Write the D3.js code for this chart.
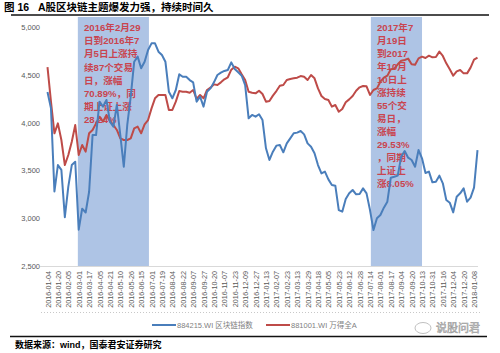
<!DOCTYPE html>
<html>
<head>
<meta charset="utf-8">
<script src="https://cdn.jsdelivr.net/npm/d3@7"></script>
<style>
  body { margin: 0; background: #fff; }
  svg text { font-family: "Liberation Sans", "Noto Sans CJK SC", sans-serif; }
</style>
</head>
<body>
<svg id="chart" width="500" height="353"></svg>
<script>
'use strict';

// category labels, one every 12 trading days
const tickLabels = ['2016-01-04', '2016-01-20', '2016-02-05', '2016-03-01', '2016-03-17', '2016-04-05',
    '2016-04-21', '2016-05-10', '2016-05-26', '2016-06-15', '2016-07-01', '2016-07-19', '2016-08-04',
    '2016-08-22', '2016-09-07', '2016-09-27', '2016-10-20', '2016-11-07', '2016-11-23', '2016-12-09',
    '2016-12-27', '2017-01-13', '2017-02-07', '2017-02-23', '2017-03-13', '2017-03-29', '2017-04-18',
    '2017-05-05', '2017-05-23', '2017-06-12', '2017-06-28', '2017-07-14', '2017-08-01', '2017-08-17',
    '2017-09-04', '2017-09-20', '2017-10-13', '2017-10-31', '2017-11-16', '2017-12-04', '2017-12-20',
    '2018-01-08'];
const tickEvery = 12;
const sampleStep = 4; // values below are read every 4 trading days

// 884215.WI 区块链指数
const blockchain = [4320, 4149, 3280, 3556, 3505, 3010, 3330, 3556, 3590, 2880, 3100, 3060, 3277, 3870,
    3870, 4219, 4167, 4237, 4010, 3958, 4184, 3870, 3539, 3975, 4271, 4637, 4690, 4568, 4637, 4760,
    4829, 4829, 4742, 4707, 4637, 4323, 4254, 4341, 4505, 4480, 4480, 4445, 4421,
    4219, 4271, 4167, 4323, 4358, 4421, 4498, 4522, 4540, 4550, 4630, 4561, 4526, 4491, 4393, 4045,
    4080, 4062, 4087, 4027, 3731, 3609, 3696, 3759, 3766, 3689, 3783, 3835, 3888, 3895, 3912, 3877,
    3783, 3748, 3679, 3556, 3469, 3487, 3406, 3347, 3340, 3085,
    3068, 3201, 3260, 3295, 3250, 3253, 3312, 3260, 3085, 2876, 2999, 3033, 3110, 3173, 3424, 3434,
    3445, 3644, 3703, 3633, 3609, 3539, 3713, 3626, 3473, 3487, 3375, 3382, 3445, 3365, 3190, 3162,
    3061, 3225, 3260, 3312, 3173, 3215, 3319, 3713];

// 881001.WI 万得全A
const windA = [4580, 4220, 3888, 3992, 3818, 3556, 3661, 3800, 3975, 3661, 3766, 3696, 3888, 3923,
    3992, 4062, 4010, 4080, 4017, 3975, 3923, 3835, 3818, 3818, 3835, 3940, 3958, 3888, 3982, 4027,
    4149, 4254, 4289, 4289, 4289, 4132, 4132, 4219, 4330, 4323, 4323, 4313, 4341,
    4247, 4289, 4254, 4341, 4365, 4400, 4393, 4421, 4453, 4474, 4554, 4585, 4568, 4505, 4446, 4323,
    4313, 4306, 4334, 4299, 4219, 4226, 4282, 4330, 4386, 4393, 4446, 4456, 4463, 4470, 4487, 4480,
    4446, 4498, 4463, 4358, 4278, 4247, 4236, 4167, 4184, 4114,
    4142, 4212, 4243, 4278, 4334, 4369, 4383, 4379, 4289, 4341, 4358, 4428, 4470, 4491, 4557, 4564,
    4610, 4648, 4655, 4669, 4610, 4606, 4672, 4690, 4676, 4700, 4683, 4686, 4742, 4697, 4620, 4557,
    4491, 4536, 4550, 4515, 4515, 4575, 4658, 4679];

const yTicks = [2500, 3000, 3500, 4000, 4500, 5000];

// highlighted periods, in trading-day index
const periods = [[35, 117], [373, 432]];

const note1 = ['2016年2月29', '日到2016年7', '月5日上涨持', '续87个交易', '日，涨幅', '70.89%，同',
    '期上证上涨', '28.24%'];
const note2 = ['2017年7', '月19日', '到2017', '年10月', '10日上', '涨持续', '55个交', '易日，', '涨幅',
    '29.53%', '，同期', '上证上', '涨8.05%'];

const svg = d3.select('#chart');

const x = d3.scaleLinear()
    .domain([0, (blockchain.length - 1) * sampleStep])
    .range([47.5, 477.5]);
const y = d3.scaleLinear().domain([2500, 5000]).range([266, 27]);

// title
const title = svg.append('g')
    .style('font-weight', 'bold').style('font-size', '10.5px');
title.append('text').attr('x', 4).attr('y', 11).text('图 16');
title.append('text').attr('x', 38).attr('y', 11).text('A股区块链主题爆发力强，持续时间久');
svg.append('line')
    .attr('x1', 11).attr('x2', 489).attr('y1', 15).attr('y2', 15)
    .attr('stroke', '#111').attr('stroke-width', 1.4);

// shaded periods
svg.selectAll('rect.period')
    .data(periods)
    .enter().append('rect')
    .attr('class', 'period')
    .attr('x', d => x(d[0]))
    .attr('width', d => x(d[1]) - x(d[0]))
    .attr('y', 17)
    .attr('height', y(2500) - 17)
    .attr('fill', '#aec4e5');

// annotations inside the shades
function note(lines, x0, y0, lh) {
    svg.append('g').selectAll('text')
        .data(lines)
        .enter().append('text')
        .attr('x', x0)
        .attr('y', (d, i) => y0 + i * lh)
        .style('font-weight', 'bold')
        .style('font-size', '9.6px')
        .attr('fill', '#c9444f')
        .text(d => d);
}
note(note1, 84, 31, 13.2);
note(note2, 377, 30.5, 13.05);

// y axis labels
svg.append('g').selectAll('text')
    .data(yTicks)
    .enter().append('text')
    .attr('x', 40)
    .attr('y', d => y(d) + 3)
    .attr('text-anchor', 'end')
    .style('font-size', '7.5px')
    .attr('fill', '#595959')
    .text(d => d3.format(',')(d));

// x axis
const xAxis = d3.axisBottom(x)
    .tickValues(tickLabels.map((d, i) => i * tickEvery))
    .tickFormat((d, i) => tickLabels[i])
    .tickSize(0);
const gx = svg.append('g')
    .attr('transform', 'translate(0,' + y(2500) + ')')
    .call(xAxis);
gx.select('.domain').attr('stroke', '#d9d9d9').attr('d', 'M' + 40 + ',0.5H' + 478);
gx.selectAll('text')
    .attr('transform', 'rotate(-90)')
    .attr('x', -5).attr('y', 0).attr('dy', '0.35em')
    .attr('text-anchor', 'end')
    .attr('fill', '#595959')
    .style('font-size', '7.2px')
    .style('font-family', '"Liberation Sans", sans-serif');

// lines
const line = d3.line()
    .x((d, i) => x(i * sampleStep))
    .y(d => y(d));
svg.append('path').datum(windA)
    .attr('d', line).attr('fill', 'none')
    .attr('stroke', '#be4b48').attr('stroke-width', 2).attr('stroke-linejoin', 'round');
svg.append('path').datum(blockchain)
    .attr('d', line).attr('fill', 'none')
    .attr('stroke', '#4a7ebb').attr('stroke-width', 2).attr('stroke-linejoin', 'round');

// dotted separator
svg.append('line')
    .attr('x1', 41).attr('x2', 482).attr('y1', 312.5).attr('y2', 312.5)
    .attr('stroke', '#c8c8c8').attr('stroke-dasharray', '1,2');

// legend
const legend = [
    {name: '884215.WI 区块链指数', color: '#4a7ebb', x: 152},
    {name: '881001.WI 万得全A', color: '#be4b48', x: 266}
];
const lg = svg.append('g').selectAll('g')
    .data(legend)
    .enter().append('g')
    .attr('transform', d => 'translate(' + d.x + ',325)');
lg.append('line')
    .attr('x1', 0).attr('x2', 24)
    .attr('stroke', d => d.color).attr('stroke-width', 2);
lg.append('text')
    .attr('x', 25).attr('y', 3)
    .style('font-size', '7.5px')
    .attr('fill', '#7f7f7f')
    .text(d => d.name);

// watermark
svg.append('text')
    .attr('x', 436).attr('y', 332)
    .style('font-family', '"Noto Sans CJK SC"')
    .style('font-size', '11px')
    .attr('fill', 'none').attr('stroke', '#9a9a9a').attr('stroke-width', 0.6)
    .text('说股问君');
svg.append('ellipse')
    .attr('cx', 423).attr('cy', 328).attr('rx', 8).attr('ry', 5.5)
    .attr('fill', 'none').attr('stroke', '#b0b0b0').attr('stroke-width', 0.8);

// bottom rule and source
svg.append('line')
    .attr('x1', 10).attr('x2', 487).attr('y1', 336.5).attr('y2', 336.5)
    .attr('stroke', '#111').attr('stroke-width', 1.4);
svg.append('text')
    .attr('x', 15).attr('y', 348)
    .style('font-weight', 'bold').style('font-size', '9px')
    .text('数据来源：wind，国泰君安证券研究');
</script>
</body>
</html>
